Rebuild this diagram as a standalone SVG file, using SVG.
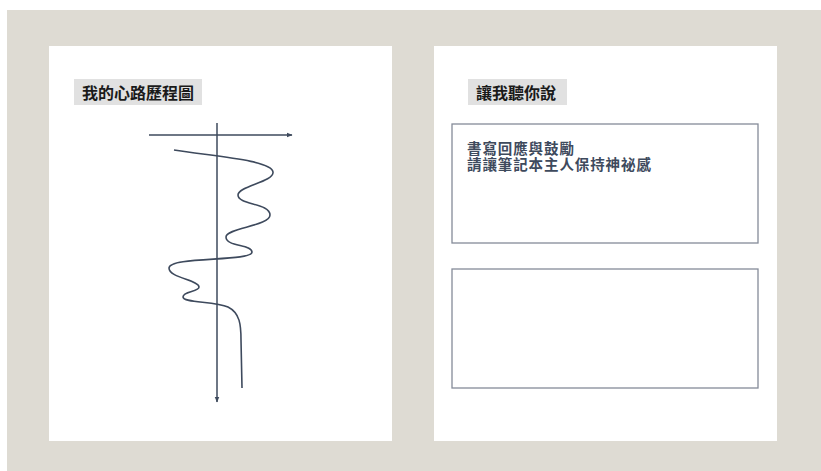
<svg xmlns="http://www.w3.org/2000/svg" width="821" height="471" viewBox="0 0 821 471">
<style>
.panel{fill:#ffffff}
.tag{fill:#e1e1e1}
.title{font-family:"Noto Sans CJK TC","Noto Sans CJK SC",sans-serif;font-size:16px;font-weight:bold;fill:#1a1a1a}
.body{font-family:"Noto Sans CJK TC","Noto Sans CJK SC",sans-serif;font-size:14.5px;letter-spacing:0.9px;font-weight:bold;fill:#3e4a5d}
.box{fill:#ffffff;stroke:#858b99;stroke-width:1.3}
.axis{fill:none;stroke:#3e4a5d;stroke-width:1.5}
.curve{fill:none;stroke:#3e4a5d;stroke-width:1.6}
</style>
<defs>
<marker id="arr" viewBox="0 0 10 10" refX="9" refY="5" markerWidth="6" markerHeight="6" orient="auto" markerUnits="userSpaceOnUse">
<path d="M0,1 L10,5 L0,9 z" fill="#3e4a5d"/>
</marker>
</defs>
<rect x="0" y="0" width="821" height="471" fill="#ffffff"/>
<rect x="7" y="10" width="814" height="461" fill="#dedbd3"/>
<g id="left-panel">
<rect class="panel" x="49" y="46" width="343" height="395"/>
<rect class="tag" x="74" y="79" width="128" height="26"/>
<text class="title" x="82" y="99">我的心路歷程圖</text>
</g>
<g id="right-panel">
<rect class="panel" x="434" y="46" width="343" height="395"/>
<rect class="tag" x="468" y="79" width="99" height="26"/>
<text class="title" x="476" y="99">讓我聽你說</text>
</g>
<g id="box1">
<rect class="box" x="452" y="124" width="306" height="119"/>
<text class="body" x="467" y="153.5"><tspan x="467" y="153.5">書寫回應與鼓勵</tspan><tspan x="467" y="170">請讓筆記本主人保持神祕感</tspan></text>
</g>
<g id="box2">
<rect class="box" x="452" y="269" width="306" height="119"/>
</g>
<g id="connectors">
<line class="axis" x1="149" y1="135" x2="292" y2="135" marker-end="url(#arr)"/>
<line class="axis" x1="217" y1="123" x2="217" y2="402" marker-end="url(#arr)"/>
<path class="curve" d="M174,150 C210,156 272,160 273,172 C274,182 238,186 238,195 C238,205 270,203 270,215 C270,226 226,228 226,237 C226,247 252,244 252,252 C252,262 169,256 169,268 C169,278 199,280 199,287 C199,292 183,291 183,297 C183,303 215,301 228,307 C240,313 241,325 241,340 L242,388"/>
</g>
</svg>
